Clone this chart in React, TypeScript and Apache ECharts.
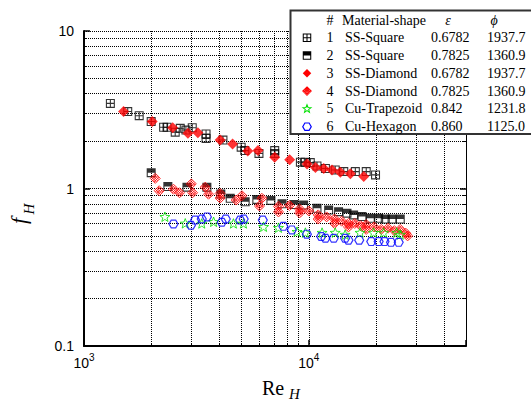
import React, { useEffect, useRef } from 'react';
import * as echarts from 'echarts';

// ---- Data (Re_H, f_H) ----
const ssSquare6782: number[][] = [
  [1310, 3.47], [1565, 3.08], [1760, 2.9], [1990, 2.66], [2260, 2.45], [2340, 2.45], [2545, 2.28],
  [2680, 2.41], [2840, 2.35], [3030, 2.43], [3490, 2.22], [3490, 2.08], [4150, 2.03], [5000, 1.83],
  [5190, 1.74], [6000, 1.67], [7050, 1.74], [7050, 1.67], [9170, 1.47], [9650, 1.47], [10150, 1.46],
  [10870, 1.39], [11850, 1.34], [13100, 1.31], [14300, 1.28], [16100, 1.28], [18000, 1.28], [19800, 1.22],
];
const ssSquare7825: number[][] = [
  [1990, 1.26], [2360, 1.03], [2870, 1.02], [3520, 1.02], [4060, 0.923], [4470, 0.867], [5210, 0.824],
  [5870, 0.853], [6780, 0.84], [7600, 0.8], [8600, 0.79], [9480, 0.785], [10870, 0.748], [12250, 0.73],
  [13560, 0.713], [14780, 0.697], [15820, 0.68], [17240, 0.663], [18770, 0.647], [20440, 0.647],
  [21870, 0.64], [23450, 0.64], [25500, 0.64],
];
const ssDiamond6782: number[][] = [
  [1500, 3.08], [2010, 2.66], [2480, 2.43], [2900, 2.24], [3210, 2.26], [4030, 2.03], [4580, 1.92],
  [5350, 1.73], [5940, 1.74], [7050, 1.58], [8220, 1.52], [9820, 1.43], [10700, 1.36], [11650, 1.34],
  [12680, 1.31], [13800, 1.27], [15300, 1.24], [17550, 1.19],
];
const ssDiamond7825: number[][] = [
  [2075, 1.16], [2160, 0.968], [2500, 0.99], [2660, 0.94], [3000, 1.07], [3040, 0.94], [3460, 1.02],
  [3580, 0.92], [4030, 0.93], [4030, 0.87], [4750, 0.845], [5040, 0.9], [6030, 0.774], [6180, 0.867],
  [7330, 0.77], [7330, 0.71], [8200, 0.78], [9100, 0.74], [9100, 0.7], [10000, 0.72], [11000, 0.68],
  [11000, 0.64], [12000, 0.66], [13000, 0.64], [13000, 0.6], [14000, 0.62], [15000, 0.6], [15000, 0.57],
  [16000, 0.6], [17000, 0.58], [18000, 0.59], [18000, 0.55], [19500, 0.57], [21000, 0.55], [22500, 0.56],
  [24000, 0.54], [25500, 0.55], [27000, 0.52], [27500, 0.5],
];
const cuTrapezoid: number[][] = [
  [2290, 0.662], [2820, 0.601], [3340, 0.6], [3770, 0.615], [4620, 0.6], [5120, 0.6], [6290, 0.572],
  [7330, 0.564], [8860, 0.532], [9650, 0.525], [11450, 0.525], [13100, 0.525], [14500, 0.51],
  [16900, 0.525], [19400, 0.525], [21500, 0.525], [24600, 0.525], [25500, 0.51],
];
const cuHexagon: number[][] = [
  [2500, 0.595], [2990, 0.585], [3120, 0.63], [3340, 0.64], [3520, 0.66], [4100, 0.61], [4270, 0.64],
  [4950, 0.63], [5130, 0.64], [6240, 0.63], [7700, 0.575], [8400, 0.546], [9800, 0.513], [11350, 0.496],
  [11850, 0.483], [12900, 0.483], [14500, 0.483], [15000, 0.47], [16750, 0.47], [18950, 0.46],
  [20440, 0.46], [21700, 0.46], [23200, 0.455], [25100, 0.455],
];

// ---- Legend table ----
const seriesIds = ['1', '2', '3', '4', '5', '6'];
const materialShapes = ['SS-Square', 'SS-Square', 'SS-Diamond', 'SS-Diamond', 'Cu-Trapezoid', 'Cu-Hexagon'];
const porosities = ['0.6782', '0.7825', '0.6782', '0.7825', '0.842', '0.860'];
const phis = ['1937.7', '1360.9', '1937.7', '1360.9', '1231.8', '1125.0'];
const headers = ['#', 'Material-shape', 'ε', 'ϕ'];

// ---- Axes ----
const xMin = 1000;
const xMax = 50000;
const yMin = 0.1;
const yMax = 10;

const SERIF = 'Liberation Serif';
const SANS = 'Liberation Sans';

// symbol outlines in a 10x10 box
const dSquarePlus = 'M0,0H10V10H0Z M1.2,1.2V8.8H8.8V1.2Z M4.4,1.2H5.6V8.8H4.4Z M1.2,4.4H8.8V5.6H1.2Z';
const dSquareHalf = 'M0,0H10V10H0Z M1.2,5V8.8H8.8V5Z';
const dDiamond = 'M5,0L10,5L5,10L0,5Z';
const dDiamondHatch =
  'M5,0L10,5L5,10L0,5Z M1.25,3.75L6.25,8.75 M2.5,2.5L7.5,7.5 M3.75,1.25L8.75,6.25 M1.25,6.25L6.25,1.25 M2.5,7.5L7.5,2.5 M3.75,8.75L8.75,3.75';
const dStar =
  'M5,0L6.235,3.301L9.755,3.455L6.997,5.649L7.939,9.045L5,7.1L2.061,9.045L3.003,5.649L0.245,3.455L3.765,3.301Z';
const dHexagon = 'M2.5,0.67L7.5,0.67L10,5L7.5,9.33L2.5,9.33L0,5Z';

const seriesDefs = [
  { data: ssSquare6782, d: dSquarePlus, shape: 'lgSqPlus', size: 9, fill: '#000', stroke: 'none', lw: 0 },
  { data: ssSquare7825, d: dSquareHalf, shape: 'lgSqHalf', size: 9, fill: '#000', stroke: 'none', lw: 0 },
  { data: ssDiamond6782, d: dDiamond, shape: 'lgDiamond', size: 11, fill: '#ff0000', stroke: 'none', lw: 0 },
  { data: ssDiamond7825, d: dDiamondHatch, shape: 'lgDiamondHatch', size: 10, fill: 'none', stroke: '#ff0000', lw: 1 },
  { data: cuTrapezoid, d: dStar, shape: 'lgStar', size: 10, fill: 'none', stroke: '#00e000', lw: 1 },
  { data: cuHexagon, d: dHexagon, shape: 'lgHexagon', size: 9, fill: 'none', stroke: '#0000ff', lw: 1.2 },
];

seriesDefs.forEach((s) => {
  echarts.graphic.registerShape(s.shape, echarts.graphic.extendPath(s.d, {}) as any);
});

function isPow10(v: number) {
  const l = Math.log10(v);
  return Math.abs(l - Math.round(l)) < 1e-6;
}

export default function App() {
  const ref = useRef<HTMLDivElement>(null);
  useEffect(() => {
    if (!ref.current) return;
    const chart = echarts.init(ref.current, null, { renderer: 'svg' });

    const rowY0 = 37.7;
    const rowStep = 17.8;
    const iconScale = 0.85;
    const legendFont = `14px "${SERIF}"`;
    const legendEls: any[] = [];
    seriesDefs.forEach((s, i) => {
      const cy = rowY0 + i * rowStep;
      legendEls.push({
        type: s.shape, z: 7, x: 307 - 5 * iconScale, y: cy - 5 * iconScale, scaleX: iconScale, scaleY: iconScale,
        style: { fill: s.fill, stroke: s.stroke, lineWidth: s.lw, strokeNoScale: true },
      });
      legendEls.push({ type: 'text', z: 7, x: 330, y: cy, style: { text: seriesIds[i], align: 'center', verticalAlign: 'middle', font: legendFont, fill: '#000' } });
      legendEls.push({ type: 'text', z: 7, x: 345, y: cy, style: { text: materialShapes[i], align: 'left', verticalAlign: 'middle', font: legendFont, fill: '#000' } });
      legendEls.push({ type: 'text', z: 7, x: 431, y: cy, style: { text: porosities[i], align: 'left', verticalAlign: 'middle', font: legendFont, fill: '#000' } });
      legendEls.push({ type: 'text', z: 7, x: 487, y: cy, style: { text: phis[i], align: 'left', verticalAlign: 'middle', font: legendFont, fill: '#000' } });
    });

    const option: any = {
      animation: false,
      backgroundColor: '#fff',
      grid: { left: 84, right: 65, top: 31, bottom: 57 },
      xAxis: {
        type: 'log', logBase: 10, min: xMin, max: xMax,
        axisLine: { show: true, onZero: false, lineStyle: { color: '#000', width: 2 } },
        axisTick: { show: true, inside: true, length: 6, lineStyle: { color: '#000', width: 1.5 } },
        minorTick: { show: true, splitNumber: 9, length: 3, lineStyle: { color: '#000', width: 1 } },
        splitLine: { show: true, lineStyle: { color: '#000', type: 'dotted', width: 1 } },
        minorSplitLine: { show: true, lineStyle: { color: '#000', type: 'dotted', width: 1 } },
        axisLabel: {
          margin: 8,
          formatter: (v: number) => (isPow10(v) ? `{b|10}{s|${Math.round(Math.log10(v))}}` : ''),
          rich: {
            b: { fontFamily: SANS, fontSize: 14, color: '#000', verticalAlign: 'bottom', lineHeight: 16 },
            s: { fontFamily: SANS, fontSize: 10, color: '#000', verticalAlign: 'bottom', lineHeight: 10, padding: [0, 0, 8, 0] },
          },
        },
      },
      yAxis: [
        {
          type: 'log', logBase: 10, min: yMin, max: yMax,
          axisLine: { show: true, onZero: false, lineStyle: { color: '#000', width: 2 } },
          axisTick: { show: true, inside: true, length: 6, lineStyle: { color: '#000', width: 1.5 } },
          minorTick: { show: true, splitNumber: 9, length: 3, lineStyle: { color: '#000', width: 1 } },
          splitLine: { show: true, lineStyle: { color: '#000', type: 'dotted', width: 1 } },
          minorSplitLine: { show: true, lineStyle: { color: '#000', type: 'dotted', width: 1 } },
          axisLabel: {
            margin: 10, fontFamily: SANS, fontSize: 14, color: '#000',
            formatter: (v: number) => (v < 1 ? v.toFixed(1) : String(Math.round(v))),
          },
        },
        {
          type: 'log', logBase: 10, min: yMin, max: yMax, position: 'right',
          axisLine: { show: true, onZero: false, lineStyle: { color: '#000', width: 1 } },
          axisTick: { show: true, inside: true, length: 6, lineStyle: { color: '#000', width: 1.5 } },
          minorTick: { show: true, splitNumber: 9, length: 3, lineStyle: { color: '#000', width: 1 } },
          splitLine: { show: false },
          axisLabel: { show: false },
        },
      ],
      graphic: [
        {
          type: 'rect', z: 5,
          shape: { x: 290.5, y: 10.5, width: 280, height: 123.5 },
          style: { fill: '#fff', stroke: '#333', lineWidth: 2 },
        },
        { type: 'text', z: 7, x: 330, y: 20, style: { text: headers[0], align: 'center', verticalAlign: 'middle', font: legendFont, fill: '#000' } },
        { type: 'text', z: 7, x: 342, y: 20, style: { text: headers[1], align: 'left', verticalAlign: 'middle', font: legendFont, fill: '#000' } },
        { type: 'text', z: 7, x: 448, y: 20, style: { text: headers[2], align: 'center', verticalAlign: 'middle', font: `italic 14px "${SERIF}"`, fill: '#000' } },
        { type: 'text', z: 7, x: 494, y: 20, style: { text: headers[3], align: 'center', verticalAlign: 'middle', font: `italic 14px "${SERIF}"`, fill: '#000' } },
        ...legendEls,
        // x-axis title Re_H
        { type: 'text', z: 7, x: 262, y: 388, style: { text: 'Re', align: 'left', verticalAlign: 'middle', font: `20px "${SERIF}"`, fill: '#000' } },
        { type: 'text', z: 7, x: 289, y: 394, style: { text: 'H', align: 'left', verticalAlign: 'middle', font: `italic 15px "${SERIF}"`, fill: '#000' } },
        // y-axis title f_H
        { type: 'text', z: 7, x: 18, y: 221, rotation: Math.PI / 2, style: { text: 'f', align: 'center', verticalAlign: 'middle', font: `italic 22px "${SERIF}"`, fill: '#000' } },
        { type: 'text', z: 7, x: 29, y: 209, rotation: Math.PI / 2, style: { text: 'H', align: 'center', verticalAlign: 'middle', font: `italic 15px "${SERIF}"`, fill: '#000' } },
      ],
      series: seriesDefs.map((s, i) => ({
        name: `${seriesIds[i]} ${materialShapes[i]}`,
        type: 'scatter',
        data: s.data,
        symbol: 'path://' + s.d,
        symbolSize: s.size,
        symbolKeepAspect: true,
        itemStyle: s.fill === 'none'
          ? { color: 'transparent', borderColor: s.stroke, borderWidth: s.lw }
          : { color: s.fill, borderWidth: 0 },
        z: 2,
      })),
    };
    chart.setOption(option);
    return () => chart.dispose();
  }, []);
  return <div ref={ref} style={{ position: 'fixed', left: 0, top: 0, width: 531, height: 403 }} />;
}
